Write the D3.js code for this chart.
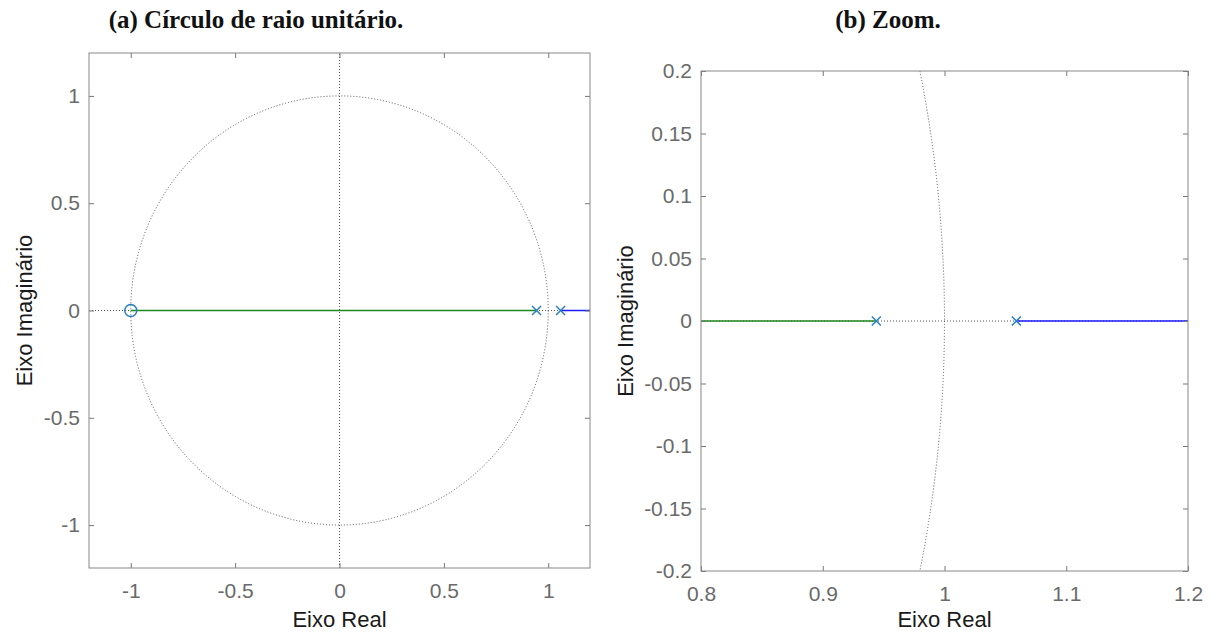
<!DOCTYPE html>
<html>
<head>
<meta charset="utf-8">
<script src="https://cdn.jsdelivr.net/npm/d3@7"></script>
<style>
  html, body { margin: 0; padding: 0; background: #fff; }
  svg { display: block; }
  .tick text { font-family: "Liberation Sans", Arial, sans-serif; font-size: 21px; fill: #6a6a6a; }
  .tick line { stroke: #777; }
  .domain { stroke: none; }
</style>
</head>
<body>
<svg id="chart" width="1216" height="637"></svg>
<script>
// Root locus data: open-loop zero and poles, plus the two real-axis branches
const zerosRe = [-1];
const zerosIm = [0];
const polesRe = [0.944, 1.059];
const polesIm = [0, 0];
const branchA = [[-1, 0], [0.944, 0]];    // green branch: zero -> pole
const branchB = [[1.059, 0], [50, 0]];    // blue branch: pole -> infinity

// Tick labels per panel
const ticksA_x = [-1, -0.5, 0, 0.5, 1];
const ticksA_y = [-1, -0.5, 0, 0.5, 1];
const ticksB_x = [0.8, 0.9, 1, 1.1, 1.2];
const ticksB_y = [-0.2, -0.15, -0.1, -0.05, 0, 0.05, 0.1, 0.15, 0.2];

const titles = ["(a) Círculo de raio unitário.", "(b) Zoom."];
const xLabel = "Eixo Real";
const yLabel = "Eixo Imaginário";

const svg = d3.select("#chart");

const panels = [
  { id: "a", box: { x0: 89, x1: 590, y0: 53, y1: 568 }, xd: [-1.2, 1.2], yd: [-1.2, 1.2],
    xt: ticksA_x, yt: ticksA_y, title: titles[0], titleX: 256, yLabX: 24 },
  { id: "b", box: { x0: 701, x1: 1188, y0: 71, y1: 571 }, xd: [0.8, 1.2], yd: [-0.2, 0.2],
    xt: ticksB_x, yt: ticksB_y, title: titles[1], titleX: 888, yLabX: 625 }
];

const fmt = d => String(d);

panels.forEach(p => {
  const b = p.box;
  const x = d3.scaleLinear().domain(p.xd).range([b.x0, b.x1]);
  const y = d3.scaleLinear().domain(p.yd).range([b.y1, b.y0]);
  const g = svg.append("g");

  g.append("clipPath").attr("id", "clip-" + p.id)
    .append("rect").attr("x", b.x0).attr("y", b.y0)
    .attr("width", b.x1 - b.x0).attr("height", b.y1 - b.y0);

  const plot = g.append("g").attr("clip-path", `url(#clip-${p.id})`);

  // Dotted unit circle and real/imaginary axes
  plot.append("ellipse")
    .attr("cx", x(0)).attr("cy", y(0))
    .attr("rx", x(1) - x(0)).attr("ry", y(0) - y(1))
    .attr("fill", "none").attr("stroke", "#555").attr("stroke-width", 1)
    .attr("stroke-dasharray", "1,2");
  plot.append("line")
    .attr("x1", x(p.xd[0])).attr("x2", x(p.xd[1])).attr("y1", y(0)).attr("y2", y(0))
    .attr("stroke", "#555").attr("stroke-dasharray", "1,2");
  plot.append("line")
    .attr("x1", x(0)).attr("x2", x(0)).attr("y1", y(p.yd[0])).attr("y2", y(p.yd[1]))
    .attr("stroke", "#555").attr("stroke-dasharray", "1,2");

  const line = d3.line().x(d => x(d[0])).y(d => y(d[1]));
  plot.append("path").datum(branchA).attr("d", line)
    .attr("fill", "none").attr("stroke", "#1f8a1f").attr("stroke-width", 1.3);
  plot.append("path").datum(branchB).attr("d", line)
    .attr("fill", "none").attr("stroke", "#1a1aff").attr("stroke-width", 1.3);

  // Zeros (circles) and poles (crosses)
  const mColor = "#2a7fc4";
  zerosRe.forEach((re, i) => {
    plot.append("circle").attr("cx", x(re)).attr("cy", y(zerosIm[i])).attr("r", 6)
      .attr("fill", "none").attr("stroke", mColor).attr("stroke-width", 1.5);
  });
  polesRe.forEach((re, i) => {
    const cx = x(re), cy = y(polesIm[i]), s = 4.5;
    plot.append("path")
      .attr("d", `M${cx - s},${cy - s}L${cx + s},${cy + s}M${cx - s},${cy + s}L${cx + s},${cy - s}`)
      .attr("stroke", mColor).attr("stroke-width", 1.5).attr("fill", "none");
  });

  // Axes with inward ticks on all four sides
  g.append("g").attr("transform", `translate(0,${b.y1})`)
    .call(d3.axisBottom(x).tickValues(p.xt).tickFormat(fmt).tickSizeInner(-5).tickSizeOuter(0).tickPadding(15));
  g.append("g").attr("transform", `translate(0,${b.y0})`)
    .call(d3.axisTop(x).tickValues(p.xt).tickFormat("").tickSizeInner(-5).tickSizeOuter(0));
  g.append("g").attr("transform", `translate(${b.x0},0)`)
    .call(d3.axisLeft(y).tickValues(p.yt).tickFormat(fmt).tickSizeInner(-5).tickSizeOuter(0).tickPadding(9));
  g.append("g").attr("transform", `translate(${b.x1},0)`)
    .call(d3.axisRight(y).tickValues(p.yt).tickFormat("").tickSizeInner(-5).tickSizeOuter(0));

  g.append("rect").attr("x", b.x0).attr("y", b.y0)
    .attr("width", b.x1 - b.x0).attr("height", b.y1 - b.y0)
    .attr("fill", "none").attr("stroke", "#888").attr("stroke-width", 1);

  // Labels
  g.append("text").attr("x", (b.x0 + b.x1) / 2).attr("y", 627)
    .attr("text-anchor", "middle").attr("font-family", "Liberation Sans, Arial, sans-serif")
    .attr("font-size", 22).attr("fill", "#1a1a1a").text(xLabel);
  g.append("text")
    .attr("transform", `translate(${p.yLabX},${(b.y0 + b.y1) / 2}) rotate(-90)`)
    .attr("text-anchor", "middle").attr("dy", "0.35em")
    .attr("font-family", "Liberation Sans, Arial, sans-serif")
    .attr("font-size", 22).attr("fill", "#1a1a1a").text(yLabel);
  g.append("text").attr("x", p.titleX).attr("y", 28)
    .attr("text-anchor", "middle").attr("font-family", "Liberation Serif, Times New Roman, serif")
    .attr("font-weight", "bold").attr("font-size", 25).attr("fill", "#111").text(p.title);
});
</script>
</body>
</html>
